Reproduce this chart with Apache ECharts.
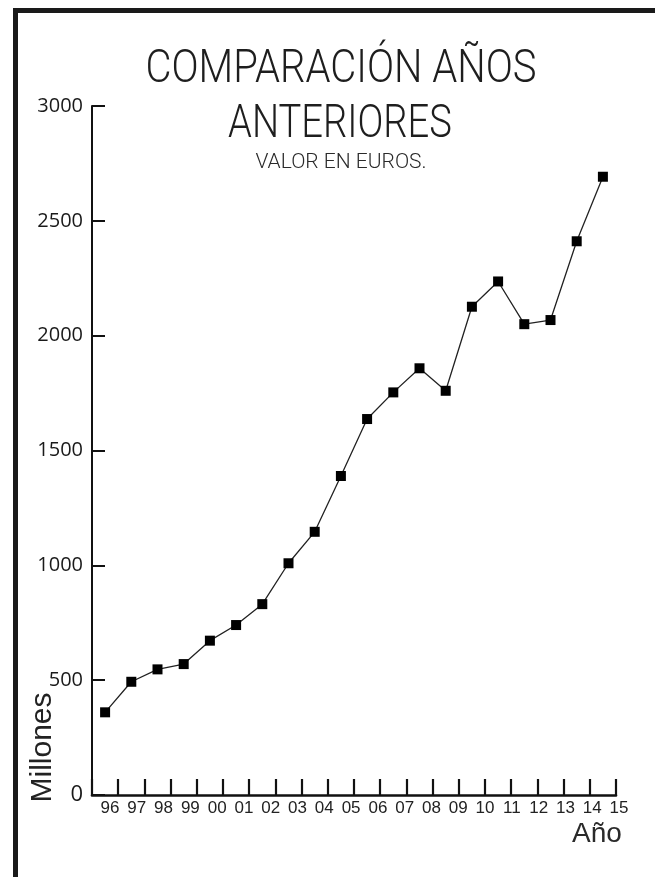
<!DOCTYPE html>
<html>
<head>
<meta charset="utf-8">
<script src="https://cdn.jsdelivr.net/npm/echarts@6/dist/echarts.min.js"></script>
<style>
  html, body { margin: 0; padding: 0; background: #ffffff; }
  #chart { width: 655px; height: 877px; }
</style>
</head>
<body>
<div id="chart"></div>
<script>
// ---- data ----
const years = ['96','97','98','99','00','01','02','03','04','05','06','07','08','09','10','11','12','13','14','15'];
const valores = [360, 493, 547, 570, 672, 740, 831, 1009, 1146, 1389, 1637, 1753, 1858, 1760, 2126, 2236, 2050, 2068, 2411, 2692];
const yMin = 0;
const yMax = 3000;
const yStep = 500;
const titleLine1 = 'COMPARACIÓN AÑOS';
const titleLine2 = 'ANTERIORES';
const subText = 'VALOR EN EUROS.';
const yName = 'Millones';
const xName = 'Año';

const chart = echarts.init(document.getElementById('chart'), null, { renderer: 'canvas' });
const thin = 'Roboto, "Noto Sans", "DejaVu Sans", sans-serif';
const arial = '"Liberation Sans", Arial, sans-serif';

function titleText(txt, x, y, size, sx, color) {
  return {
    type: 'text', x: x, y: y, scaleX: sx, silent: true,
    style: {
      text: txt, fontFamily: thin, fontWeight: 300, fontSize: size,
      fill: color, textAlign: 'center', textVerticalAlign: 'middle'
    }
  };
}

const option = {
  animation: false,
  backgroundColor: '#ffffff',
  grid: [
    { left: 92, right: 39, top: 106, bottom: 82, containLabel: false },
    { left: 96.6, right: 22.6, top: 106, bottom: 82, containLabel: false }
  ],
  xAxis: [
    {
      type: 'category',
      gridIndex: 0,
      data: years,
      boundaryGap: true,
      axisLine: { show: true, lineStyle: { color: '#111', width: 2.6 } },
      axisTick: { show: true, inside: true, length: 16, lineStyle: { color: '#111', width: 2.2 } },
      axisLabel: { show: false },
      splitLine: { show: false }
    },
    {
      type: 'category',
      gridIndex: 1,
      data: years,
      boundaryGap: true,
      axisLine: { show: false },
      axisTick: { show: false },
      axisLabel: {
        show: true,
        interval: 0,
        margin: 5,
        fontFamily: arial,
        fontSize: 17,
        color: '#222'
      },
      splitLine: { show: false }
    }
  ],
  yAxis: [
    {
      type: 'value',
      gridIndex: 0,
      min: yMin,
      max: yMax,
      interval: yStep,
      axisLine: { show: true, lineStyle: { color: '#111', width: 2 } },
      axisTick: { show: true, inside: true, length: 13, lineStyle: { color: '#111', width: 2 } },
      axisLabel: {
        margin: 9,
        fontFamily: '"Open Sans", "Noto Sans", sans-serif',
        fontSize: 20,
        color: '#1a1a1a',
        formatter: function (v) { return v === 0 ? '{z|0}' : String(v); },
        rich: { z: { fontFamily: '"Open Sans", "Noto Sans", sans-serif', fontSize: 22, color: '#1a1a1a' } }
      },
      splitLine: { show: false }
    },
    {
      type: 'value',
      gridIndex: 1,
      min: yMin,
      max: yMax,
      show: false
    }
  ],
  series: [
    {
      type: 'line',
      xAxisIndex: 0,
      yAxisIndex: 0,
      data: valores,
      symbol: 'rect',
      symbolSize: 10,
      showAllSymbol: true,
      lineStyle: { color: '#222', width: 1.3 },
      itemStyle: { color: '#000', borderWidth: 0 },
      emphasis: { disabled: true }
    }
  ],
  graphic: [
    { type: 'rect', shape: { x: 13, y: 8, width: 642, height: 5 }, style: { fill: '#1a1a1a' }, silent: true },
    { type: 'rect', shape: { x: 13, y: 8, width: 5, height: 869 }, style: { fill: '#1a1a1a' }, silent: true },
    titleText(titleLine1, 341, 70, 46, 0.87, '#1e1e1e'),
    titleText(titleLine2, 340, 125, 46, 0.83, '#1e1e1e'),
    titleText(subText, 341, 163, 21, 1.0, '#2a2a2a'),
    {
      type: 'text',
      x: 43, y: 747.5,
      rotation: Math.PI / 2,
      style: {
        text: yName,
        fontFamily: arial,
        fontSize: 30,
        fill: '#222',
        textAlign: 'center',
        textVerticalAlign: 'middle'
      },
      silent: true
    },
    {
      type: 'text',
      x: 597, y: 834,
      style: {
        text: xName,
        fontFamily: arial,
        fontSize: 28,
        fill: '#2a2a2a',
        textAlign: 'center',
        textVerticalAlign: 'middle'
      },
      silent: true
    }
  ]
};
chart.setOption(option);
</script>
</body>
</html>
